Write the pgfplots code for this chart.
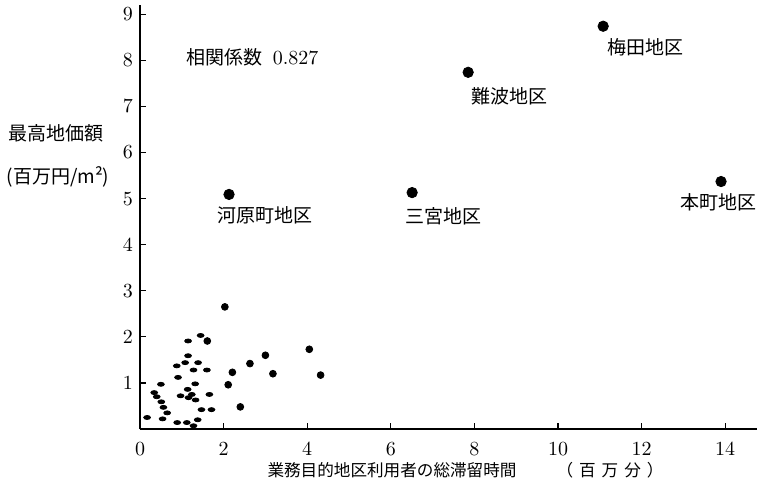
\documentclass[border=0pt]{standalone}
\usepackage{pgfplots}
\pgfplotsset{compat=1.18}
\usepackage{fontspec}
\newfontfamily\jp{Noto Sans CJK JP}
\begin{document}
\begin{tikzpicture}
\useasboundingbox (0,0) rectangle (380.5pt,247.5pt);
\begin{axis}[
 at={(70pt,33pt)}, anchor=south west,
 scale only axis, width=308.5pt, height=212pt,
 xmin=0, xmax=14.76, ymin=0, ymax=9.2,
 axis x line=bottom, axis y line=left,
 axis line style={-, line width=0.9pt},
 xtick={0,2,...,14}, ytick={1,...,9},
 xticklabel style={yshift=-3.5pt},
 tick align=inside, major tick length=3pt,
 tick style={black, line width=0.6pt},
 clip=false,
]
% labelled districts
\addplot[only marks, mark=*, mark size=2.6pt] coordinates {
(2.13,5.09) (6.51,5.13) (7.85,7.74) (11.08,8.74) (13.9,5.37)};
% small round points
\addplot[only marks, mark=*, mark size=1.7pt] coordinates {
(2.03,2.65) (1.61,1.91) (3.00,1.60) (4.05,1.73) (2.63,1.42)
(2.21,1.23) (3.18,1.20) (4.32,1.17) (2.11,0.96) (2.40,0.48)};
% small elongated points
\addplot[only marks, mark=*, mark size=1.0pt, mark options={xscale=1.7}] coordinates {
(1.45,2.03) (1.15,1.91) (1.15,1.59) (1.08,1.44) (1.39,1.44)
(0.88,1.37) (1.28,1.28) (1.60,1.28) (0.91,1.12) (0.50,0.97)
(1.32,0.98) (1.14,0.86) (0.34,0.79) (1.24,0.75) (1.66,0.75)
(0.97,0.72) (0.40,0.70) (1.16,0.68) (1.33,0.63) (0.51,0.59)
(0.56,0.47) (0.65,0.35) (1.47,0.42) (1.71,0.42) (0.17,0.25)
(0.54,0.22) (1.38,0.20) (0.89,0.14) (1.12,0.14) (1.28,0.07)};
\node[font=\jp\fontsize{9.5}{11}\selectfont, anchor=west] at (axis cs:0.95,8.07) {相関係数\hspace{5pt}{\rmfamily\fontsize{10}{12}\selectfont 0.827}};
\node[font=\jp\fontsize{9.5}{11}\selectfont] at (axis cs:2.99,4.63) {河原町地区};
\node[font=\jp\fontsize{9.5}{11}\selectfont] at (axis cs:7.27,4.61) {三宮地区};
\node[font=\jp\fontsize{9.5}{11}\selectfont] at (axis cs:8.85,7.22) {難波地区};
\node[font=\jp\fontsize{9.5}{11}\selectfont] at (axis cs:12.1,8.28) {梅田地区};
\node[font=\jp\fontsize{9.5}{11}\selectfont] at (axis cs:13.83,4.91) {本町地区};
\end{axis}
\node[font=\jp\fontsize{9.5}{11}\selectfont] at (28pt,181pt) {最高地価額};
\node[font=\jp\fontsize{9.5}{11}\selectfont] at (29pt,159pt) {(百万円/m²)};
\node[font=\jp\fontsize{8.3}{10}\selectfont] at (196pt,12.5pt) {業務目的地区利用者の総滞留時間};
\node[font=\jp\fontsize{8.3}{10}\selectfont] at (305pt,12.5pt) {（\hspace{3pt}百\hspace{3pt}万\hspace{3pt}分\hspace{3pt}）};
\end{tikzpicture}
\end{document}
